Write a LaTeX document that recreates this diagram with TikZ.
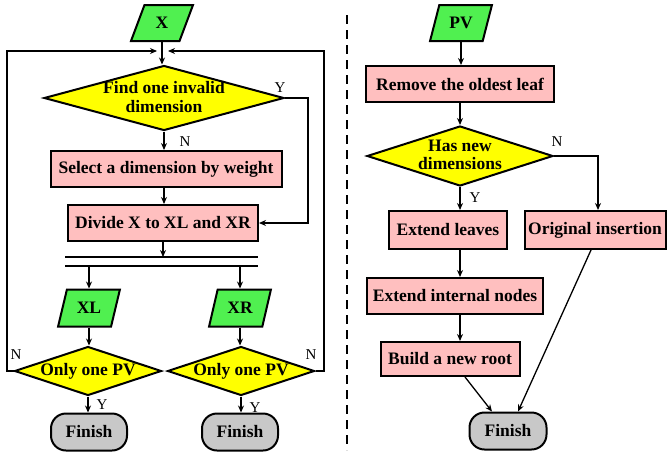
\documentclass[tikz,border=0pt]{standalone}
\usepackage{fontspec}
\setmainfont{Liberation Serif}
\usetikzlibrary{arrows.meta,shapes.geometric}
\definecolor{iogreen}{RGB}{80,240,80}
\definecolor{procpink}{RGB}{255,191,191}
\definecolor{decyellow}{RGB}{255,255,0}
\definecolor{endgray}{RGB}{200,200,200}
\tikzset{
  base/.style={draw=black, line width=2pt, inner sep=0pt, font=\fontsize{17.5}{18.5}\selectfont\bfseries},
  iobox/.style={base, trapezium, trapezium left angle=67, trapezium right angle=113, trapezium stretches=true, fill=iogreen, minimum width=62pt, minimum height=36pt},
  procbox/.style={base, rectangle, fill=procpink, minimum height=36pt},
  decbox/.style={base, diamond, fill=decyellow},
  endbox/.style={base, rectangle, rounded corners=15pt, fill=endgray, minimum width=76pt, minimum height=37pt},
  txt/.style={font=\fontsize{17.5}{18.5}\selectfont\bfseries, align=center, inner sep=0pt},
  lbl/.style={font=\fontsize{15}{16}\selectfont, inner sep=0pt},
  conn/.style={line width=1.3pt, -{Stealth[length=7pt,width=6pt]}},
  wire/.style={line width=1.3pt}
}
\begin{document}
\begin{tikzpicture}[x=1pt,y=-1pt]
\useasboundingbox (0,0) rectangle (668,455);
% ---------- left flow ----------
\node[iobox] (X) at (162,23) {X};
\node[decbox, minimum width=240pt, minimum height=65pt] (d1) at (164,98) {};
\node[txt] (d1t) at ([yshift=1pt]d1) {Find one invalid\\dimension};
\node[procbox, minimum width=231pt] (sel) at (166,169) {Select a dimension by weight};
\node[procbox, minimum width=190pt] (div) at (163,223) {Divide X to XL and XR};
\coordinate (bl1) at (65,257);
\coordinate (br1) at (258,257);
\coordinate (bl2) at (65,266);
\coordinate (br2) at (258,266);
\draw[line width=2.4pt] (bl1) -- (br1);
\draw[line width=2.4pt] (bl2) -- (br2);
\node[iobox, minimum height=37pt] (XL) at (89,308) {XL};
\node[iobox, minimum height=37pt] (XR) at (240,308) {XR};
\node[decbox, minimum width=147pt, minimum height=49pt] (p1) at (88,371) {};
\node[txt] (p1t) at (p1) {Only one PV};
\node[decbox, minimum width=147pt, minimum height=49pt] (p2) at (241,371) {};
\node[txt] (p2t) at (p2) {Only one PV};
\node[endbox] (f1) at (89,432) {Finish};
\node[endbox] (f2) at (240,432) {Finish};
\coordinate (lc) at (7,51);
\coordinate (rc) at (324,51);
\coordinate (lin) at (157,51);
\coordinate (rin) at (168,51);
\coordinate (yc) at (308,98);

\draw[conn] (X.south) -- (X.south |- d1.north);
\draw[conn] (p1.west) -- (lc |- p1.west) -- (lc) -- (lin);
\draw[conn] (p2.east) -- (rc |- p2.east) -- (rc) -- (rin);
\draw[conn] (d1.east) -- (yc) |- (div.east);
\draw[conn] (d1.south) -- (d1.south |- sel.north);
\draw[conn] (sel.south -| d1.south) -- (d1.south |- div.north);
\draw[conn] (div.south) -- (div.south |- bl1);
\draw[conn] (bl2 -| XL.north) -- (XL.north);
\draw[conn] (bl2 -| XR.north) -- (XR.north);
\draw[conn] (XL.south) -- (XL.south |- p1.north);
\draw[conn] (XR.south) -- (XR.south |- p2.north);
\draw[conn] (p1.south) -- (p1.south |- f1.north);
\draw[conn] (p2.south) -- (p2.south |- f2.north);

\node[lbl] (ly1) at (280,88) {Y};
\node[lbl] (ln1) at (185,142) {N};
\node[lbl] (ln2) at (16,355) {N};
\node[lbl] (ln3) at (311,355) {N};
\node[lbl] (ly2) at (102,405) {Y};
\node[lbl] (ly3) at (255,408) {Y};

% ---------- separator ----------
\coordinate (sept) at (347,15);
\coordinate (sepb) at (347,450);
\draw[line width=2pt, dash pattern=on 9pt off 6pt] (sept) -- (sepb);

% ---------- right flow ----------
\node[iobox] (PV) at (461,23) {PV};
\node[procbox, minimum width=188pt] (rem) at (460,84) {Remove the oldest leaf};
\node[decbox, minimum width=186pt, minimum height=60pt] (d2) at (460,156) {};
\node[txt] (d2t) at ([yshift=1pt]d2) {Has new\\dimensions};
\node[procbox, minimum width=118pt, minimum height=38pt] (ext) at (448,230) {Extend leaves};
\node[procbox, minimum width=141pt, minimum height=38pt] (orig) at (595,230) {Original insertion};
\node[procbox, minimum width=176pt] (intn) at (455,296) {Extend internal nodes};
\node[procbox, minimum width=139pt, minimum height=34pt] (build) at (450,359) {Build a new root};
\node[endbox, minimum width=77pt] (f3) at (508,431) {Finish};
\coordinate (nc) at (598,156);

\draw[conn] (PV.south) -- (PV.south |- rem.north);
\draw[conn] (rem.south) -- (rem.south |- d2.north);
\draw[conn] (d2.east) -- (nc) -- (nc |- orig.north);
\draw[conn] (d2.south) -- (d2.south |- ext.north);
\draw[conn] (d2.south |- ext.south) -- (d2.south |- intn.north);
\draw[conn] (d2.south |- intn.south) -- (d2.south |- build.north);
\draw[conn] ([xshift=15pt]build.south) -- ([xshift=-16pt]f3.north);
\draw[conn] ([xshift=-4pt]orig.south) -- ([xshift=10pt]f3.north);

\node[lbl] (ln4) at (557,142) {N};
\node[lbl] (ly4) at (475,198) {Y};
\end{tikzpicture}
\end{document}
